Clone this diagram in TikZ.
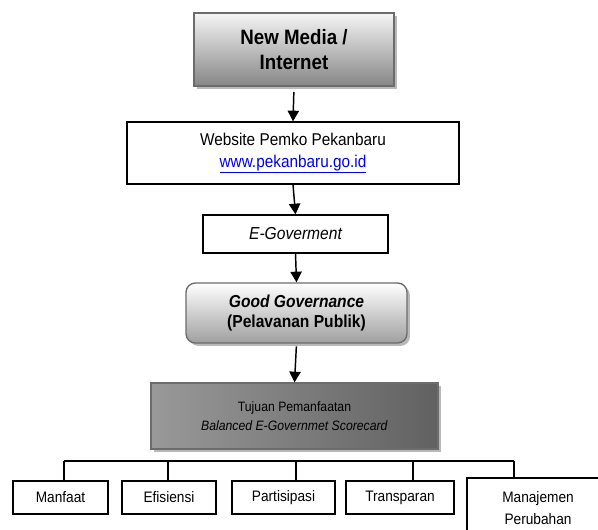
\documentclass[tikz,border=0pt]{standalone}
\usepackage{fontspec}
\setmainfont[FakeStretch=0.9]{Liberation Sans}
\usetikzlibrary{shadows,arrows.meta}
\definecolor{linkblue}{RGB}{0,0,238}
\tikzset{
  box/.style={draw=black, line width=1pt, fill=white, align=center, inner sep=0pt},
  shadebox/.style={draw=gray!85!black, line width=1pt, align=center, inner sep=0pt,
    drop shadow={shadow xshift=2.2pt, shadow yshift=-2.2pt, fill=gray!55, opacity=1}},
  leaf/.style={box, minimum height=24.75pt, font=\fontsize{11.4}{16.2}\selectfont},
  flow/.style={-{Triangle[length=8pt,width=8.5pt]}, line width=1.1pt},
}
\begin{document}
\begin{tikzpicture}[x=0.75pt,y=-0.75pt]
\useasboundingbox (0,0) rectangle (598,529);
\clip (0,0) rectangle (598,529);
% chain of boxes
\node[shadebox, top color=gray!8, bottom color=gray!95, minimum width=150pt, minimum height=54.75pt,
  font=\fontsize{15.6}{18.75}\selectfont\bfseries] (media) at (294,49.5) {New Media /\\Internet};
\node[box, minimum width=249pt, minimum height=46.5pt, font=\fontsize{12.8}{16.5}\selectfont]
  (web) at (293,153) {Website Pemko Pekanbaru\\\textcolor{linkblue}{\underline{www.pekanbaru.go.id}}};
\node[box, minimum width=138.75pt, minimum height=28.5pt, font=\fontsize{13}{15}\selectfont\itshape]
  (egov) at (295.5,234) {E-Goverment};
\node[shadebox, rounded corners=7pt, top color=white, bottom color=gray!75, minimum width=165.75pt,
  minimum height=45pt, font=\fontsize{13}{15}\selectfont\bfseries]
  (good) at (296.5,313) {\textit{Good Governance}\\(Pelavanan Publik)};
\node[shadebox, left color=black!40, middle color=black!10, right color=black!62, minimum width=215.25pt,
  minimum height=49.5pt, font=\fontsize{10.2}{13.7}\selectfont]
  (goal) at (294.5,416) {Tujuan Pemanfaatan\\\textit{Balanced E-Governmet Scorecard}};
\draw[flow, shorten <=4pt] (media.south) -- (web.north);
\draw[flow] (web.south) -- (egov.north);
\draw[flow] (egov.south) -- (good.north);
\draw[flow, shorten <=2pt] (good.south) -- (goal.north);
% aspects
\node[leaf, minimum width=71.25pt] (manfaat) at (60.5,497.5) {Manfaat};
\node[leaf, minimum width=70.5pt] (efisiensi) at (169,497.5) {Efisiensi};
\node[leaf, minimum width=77.25pt] (partisipasi) at (283.5,497.5) {Partisipasi};
\node[leaf, minimum width=81pt] (transparan) at (400,497.5) {Transparan};
\node[leaf, minimum width=106.5pt, minimum height=45pt] (manajemen) at (538,508) {Manajemen\\Perubahan};
\coordinate (b1) at (64,461);
\coordinate (b2) at (168,461);
\coordinate (b3) at (296,461);
\coordinate (b4) at (413,461);
\coordinate (b5) at (514,461);
\draw[line width=1pt] (b1) -- (b5);
\foreach \b/\n in {b1/manfaat, b2/efisiensi, b3/partisipasi, b4/transparan, b5/manajemen}
  \draw[line width=1pt] (\b) -- (\b |- \n.north);
\end{tikzpicture}
\end{document}
